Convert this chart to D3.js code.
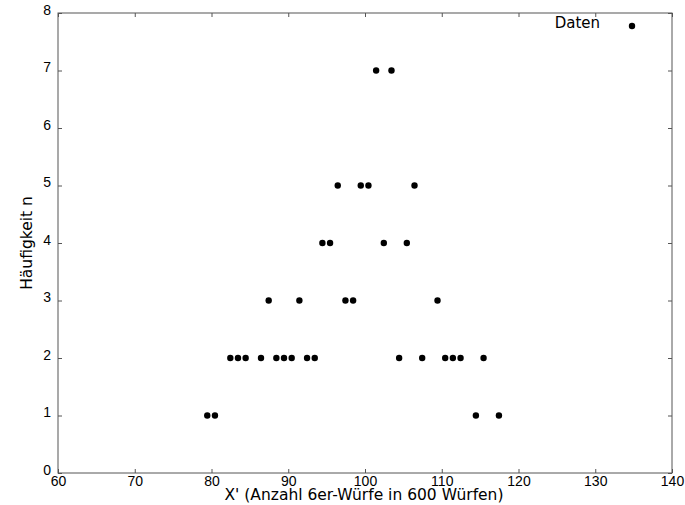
<!DOCTYPE html>
<html>
<head>
<script src="https://cdn.jsdelivr.net/npm/d3@7"></script>
<style>
	body { margin: 0; background: #fff; }
	svg { display: block; font-family: "DejaVu Sans", sans-serif; }
</style>
</head>
<body>
<div id="container"></div>
<script>
	const width = 685, height = 505;
	const margin = {left: 58, right: 13, top: 13, bottom: 32};

	// counts per number of sixes (bin centre)
	const xs     = [79.45, 80.45, 82.45, 83.45, 84.45, 86.45, 87.45, 88.45, 89.45, 90.45, 91.45, 92.45, 93.45, 94.45, 95.45, 96.45, 97.45,
	                98.45, 99.45, 100.45, 101.45, 102.45, 103.45, 104.45, 105.45, 106.45, 107.45, 109.45, 110.45, 111.45, 112.45, 114.45, 115.45, 117.45];
	const counts = [1, 1, 2, 2, 2, 2, 3, 2, 2, 2, 3, 2, 2, 4, 4, 5, 3,
	                3, 5, 5, 7, 4, 7, 2, 4, 5, 2, 3, 2, 2, 2, 1, 2, 1];
	const xTicks = [60, 70, 80, 90, 100, 110, 120, 130, 140];
	const yTicks = [0, 1, 2, 3, 4, 5, 6, 7, 8];

	const x = d3.scaleLinear().domain([60, 140]).range([margin.left, width - margin.right]);
	const y = d3.scaleLinear().domain([0, 8]).range([height - margin.bottom, margin.top]);

	const svg = d3.select("#container").append("svg").attr("width", width).attr("height", height);

	// frame
	svg.append("rect")
		.attr("x", x(60)).attr("y", y(8))
		.attr("width", x(140) - x(60)).attr("height", y(0) - y(8))
		.attr("fill", "none").attr("stroke", "#555").attr("stroke-width", 1);

	// ticks pointing inward on all four sides
	const tl = 4;
	const axStyle = g => {
		g.select(".domain").remove();
		g.selectAll("line").attr("stroke", "#555");
		g.selectAll("text").attr("fill", "#000").attr("font-size", 14);
	};
	svg.append("g").attr("transform", `translate(0,${y(0)})`)
		.call(d3.axisBottom(x).tickValues(xTicks).tickSizeInner(-tl).tickSizeOuter(0).tickPadding(3))
		.call(axStyle);
	svg.append("g").attr("transform", `translate(0,${y(8)})`)
		.call(d3.axisTop(x).tickValues(xTicks).tickSizeInner(-tl).tickSizeOuter(0).tickFormat(""))
		.call(axStyle);
	svg.append("g").attr("transform", `translate(${x(60)},0)`)
		.call(d3.axisLeft(y).tickValues(yTicks).tickSizeInner(-tl).tickSizeOuter(0).tickPadding(7))
		.call(axStyle)
		.selectAll("text").attr("dy", "0.1em");
	svg.append("g").attr("transform", `translate(${x(140)},0)`)
		.call(d3.axisRight(y).tickValues(yTicks).tickSizeInner(-tl).tickSizeOuter(0).tickFormat(""))
		.call(axStyle);

	// data
	const data = xs.map((v, i) => ({x: v, n: counts[i]}));
	svg.append("g").selectAll("circle").data(data).enter().append("circle")
		.attr("cx", d => x(d.x)).attr("cy", d => y(d.n))
		.attr("r", 3.2).attr("fill", "#000");

	// legend
	svg.append("circle").attr("cx", 632).attr("cy", 26).attr("r", 3.2).attr("fill", "#000");
	svg.append("text").attr("x", 600).attr("y", 28).attr("text-anchor", "end")
		.attr("font-size", 15).text("Daten");

	// axis labels
	svg.append("text").attr("x", (x(60) + x(140)) / 2 - 1).attr("y", 500)
		.attr("text-anchor", "middle").attr("font-size", 15.5)
		.text("X' (Anzahl 6er-Würfe in 600 Würfen)");
	svg.append("text")
		.attr("transform", `translate(32,${(y(0) + y(8)) / 2}) rotate(-90)`)
		.attr("text-anchor", "middle").attr("font-size", 15.5)
		.text("Häufigkeit n");
</script>
</body>
</html>
